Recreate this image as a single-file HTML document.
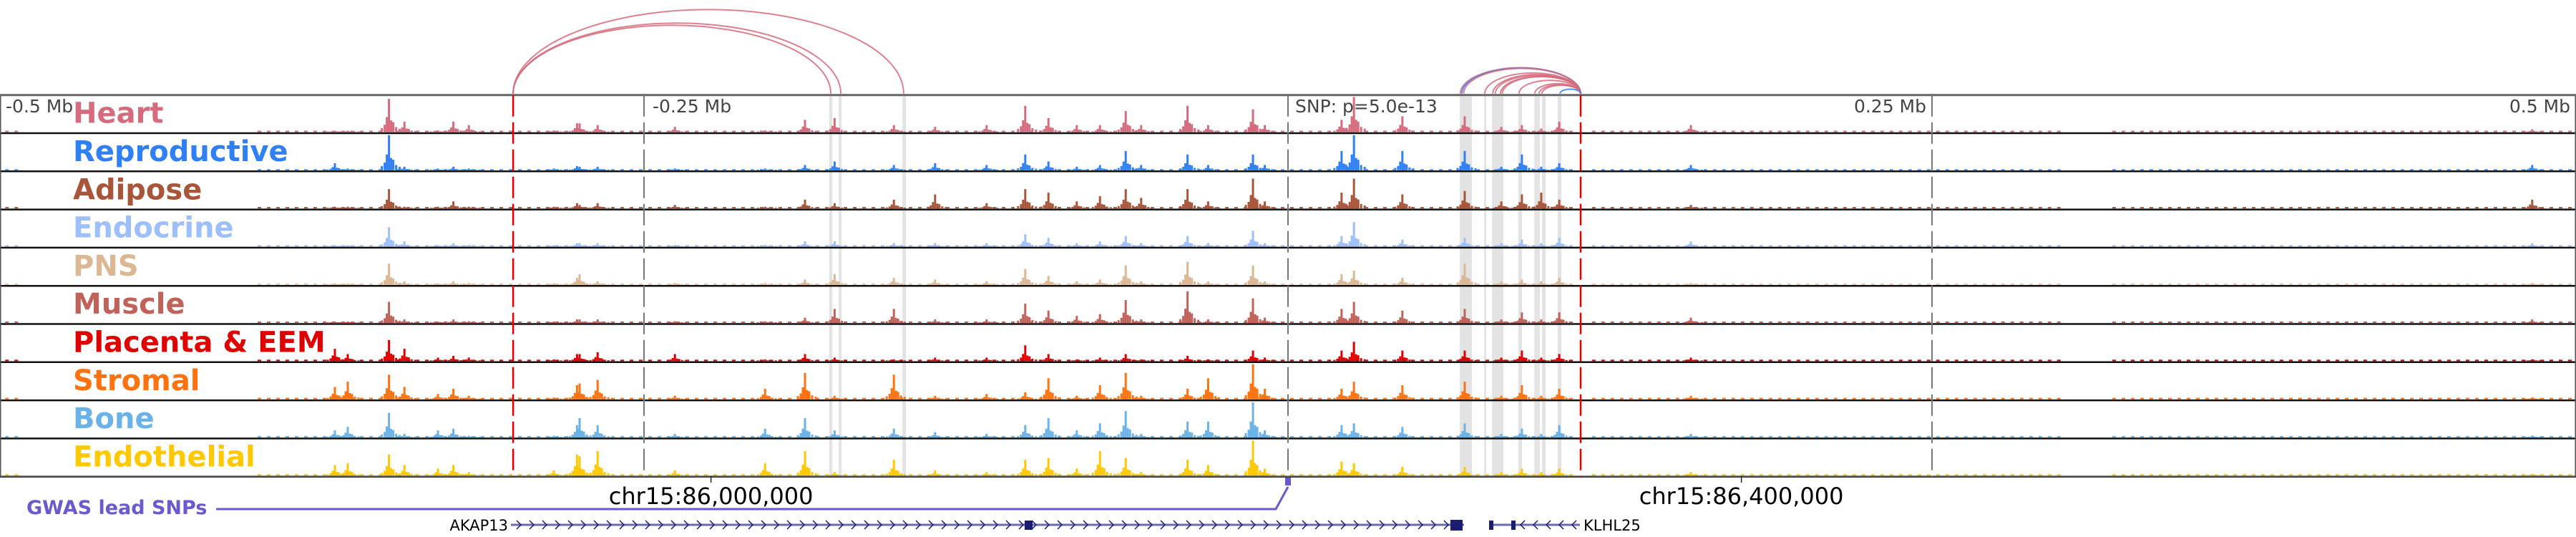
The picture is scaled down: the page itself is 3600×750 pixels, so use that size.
<!DOCTYPE html>
<html><head><meta charset="utf-8"><title>Genome tracks</title>
<style>
html,body{margin:0;padding:0;background:#fff;}
svg{display:block;}
text{font-family:"DejaVu Sans","Liberation Sans",sans-serif;}
</style></head>
<body>
<svg id="chart" width="3600" height="750" viewBox="0 0 3600 750" xmlns="http://www.w3.org/2000/svg">
<g id="stripes"></g>
<g id="arcs"></g>
<g id="tracks"></g>
<g id="vlines"></g>
<g id="labels"></g>
<g id="bottom"></g>
</svg>
<script>
// ---- data ----
const trackNames = ["Heart","Reproductive","Adipose","Endocrine","PNS","Muscle","Placenta & EEM","Stromal","Bone","Endothelial"];
const trackColors = ["#d56b7d","#2f7ff5","#a9553a","#9dbffc","#dcb794","#c0625a","#e00000","#ff7210","#6ab2e7","#ffc800"];
const peakKb = [-370,-365,-349,-343,-330,-324,-318,-285,-276,-275,-268,-238,-203,-187.5,-176,-153,-137,-117,-102,-93,-82,-73,-63,-57,-39,-31,-13.6,-9,20.8,25.6,44.4,68.6,82.8,90.8,98.3,105.3,156.4,483];
const heart   = [0.04,0.04,0.95,0.3,0.05,0.3,0.2,0.05,0.25,0.25,0.2,0.15,0.05,0.35,0.4,0.2,0.15,0.2,0.75,0.4,0.2,0.2,0.6,0.2,0.75,0.2,0.65,0.2,0.35,1.0,0.45,0.45,0.15,0.2,0.1,0.3,0.2,0.08];
const repro   = [0.2,0.05,1.0,0.1,0.05,0.1,0.05,0.05,0.12,0.1,0.1,0.05,0.05,0.15,0.25,0.15,0.2,0.15,0.45,0.25,0.1,0.15,0.55,0.15,0.45,0.15,0.45,0.15,0.55,1.0,0.55,0.55,0.1,0.45,0.1,0.2,0.15,0.15];
const adipose = [0.05,0.05,0.55,0.05,0.05,0.2,0.05,0.05,0.15,0.1,0.15,0.1,0.05,0.25,0.15,0.25,0.4,0.15,0.55,0.45,0.2,0.35,0.55,0.3,0.55,0.2,0.85,0.2,0.45,0.85,0.4,0.5,0.2,0.4,0.45,0.25,0.1,0.25];
const endocr  = [0.04,0.04,0.55,0.15,0.04,0.1,0.05,0.04,0.1,0.1,0.1,0.05,0.05,0.15,0.15,0.1,0.1,0.1,0.35,0.25,0.1,0.15,0.3,0.1,0.3,0.1,0.45,0.1,0.3,0.7,0.2,0.25,0.1,0.2,0.1,0.25,0.15,0.1];
const pns     = [0.04,0.04,0.6,0.1,0.04,0.1,0.05,0.04,0.2,0.3,0.1,0.05,0.05,0.15,0.3,0.2,0.15,0.1,0.45,0.25,0.1,0.15,0.55,0.1,0.65,0.1,0.55,0.1,0.3,0.4,0.2,0.6,0.1,0.15,0.1,0.2,0.05,0.05];
const muscle  = [0.04,0.04,0.6,0.1,0.04,0.1,0.05,0.04,0.1,0.1,0.1,0.05,0.05,0.15,0.4,0.4,0.1,0.1,0.55,0.35,0.2,0.25,0.65,0.1,0.9,0.1,0.7,0.15,0.4,0.6,0.35,0.4,0.1,0.3,0.1,0.3,0.15,0.1];
const placent = [0.35,0.2,0.6,0.35,0.1,0.15,0.1,0.05,0.2,0.2,0.25,0.2,0.05,0.2,0.1,0.05,0.1,0.1,0.45,0.2,0.05,0.1,0.2,0.05,0.15,0.05,0.3,0.1,0.3,0.55,0.3,0.3,0.1,0.3,0.1,0.2,0.1,0.05];
const stromal = [0.35,0.5,0.7,0.35,0.15,0.3,0.1,0.05,0.4,0.45,0.55,0.1,0.3,0.75,0.1,0.7,0.1,0.15,0.2,0.6,0.1,0.4,0.75,0.1,0.3,0.6,1.0,0.3,0.3,0.5,0.4,0.5,0.1,0.4,0.1,0.3,0.1,0.05];
const bone    = [0.2,0.3,0.7,0.1,0.2,0.25,0.05,0.05,0.35,0.55,0.35,0.1,0.25,0.55,0.2,0.25,0.15,0.1,0.35,0.55,0.2,0.4,0.75,0.1,0.45,0.45,1.0,0.2,0.35,0.4,0.3,0.4,0.1,0.25,0.1,0.35,0.1,0.05];
const endoth  = [0.3,0.35,0.6,0.3,0.2,0.3,0.1,0.15,0.6,0.55,0.7,0.15,0.35,0.7,0.1,0.45,0.15,0.1,0.45,0.5,0.2,0.7,0.5,0.1,0.45,0.3,1.0,0.2,0.4,0.35,0.25,0.25,0.1,0.2,0.1,0.2,0.1,0.05];
const trackValues = [heart,repro,adipose,endocr,pns,muscle,placent,stromal,bone,endoth];
const bgRanges = [[-498,-494],[-400,112],[118,300],[320,500]];
const bgLevels = [0.04,0.03,0.04,0.04,0.03,0.04,0.04,0.04,0.04,0.04];
const stripeRanges = [[-178.1,-176.9],[-174.4,-173.3],[-149.7,-148.3],[66.7,71.4],[76.1,76.9],[79.2,83.6],[89.4,90.8],[95.6,97.8],[98.6,100],[104.7,106.1]];
const arcStart = [-300.8,-300.8,-300.8,66.9,67.5,68.2,76.4,79.5,80.5,82.5,83.2,89.7,95.8,97.5,98.6,105.6];
const arcEnd   = [-177.5,-173.6,-149.2,113.6,113.6,113.6,113.6,113.6,113.6,113.6,113.6,113.6,113.6,113.6,113.6,113.6];
const arcTissue= [0,0,0,0,1,0,0,0,0,0,0,0,0,0,0,1];
const tickKb = [-500,-250,0,250,500];
const tickLabels = ["-0.5 Mb","-0.25 Mb","SNP: p=5.0e-13","0.25 Mb","0.5 Mb"];
const redLineKb = [-300.8,113.6];
const chrTickKb = [-224,176];
const chrTickLabels = ["chr15:86,000,000","chr15:86,400,000"];
const snpKb = [0];

// ---- scales ----
const NS="http://www.w3.org/2000/svg";
const xKb = kb => 1800 + kb*3.6;
const T0 = 132.7, TH = 53.3, NT = 10, MAXH = 49;
const trackTop = i => T0 + i*TH;
function mk(tag, attrs, parent){const e=document.createElementNS(NS,tag);for(const k in attrs)e.setAttribute(k,attrs[k]);parent.appendChild(e);return e;}

const gStripes=document.getElementById('stripes');
stripeRanges.forEach(r=>{
  const e=mk('rect',{x:xKb(r[0]),y:T0+2,width:Math.max(2,xKb(r[1])-xKb(r[0])),height:NT*TH-2,fill:'#e3e3e3'},gStripes);
  
  
});

const gTracks=document.getElementById('tracks');
for(let i=0;i<NT;i++){
  const g=mk('g',{},gTracks);
  
  
  const base = trackTop(i)+TH-1.5, col=trackColors[i], vals=trackValues[i];
  bgRanges.forEach(r=>{
    for(let x=xKb(r[0]); x<xKb(r[1]); x+=13){
      mk('rect',{x:x,y:base-bgLevels[i]*MAXH,width:5,height:bgLevels[i]*MAXH,fill:col},g);
    }
  });
  peakKb.forEach((kb,j)=>{
    const v=vals[j], cx=xKb(kb);
    const sh=[[0,1],[-3,0.45],[3,0.35],[-6,0.22],[6,0.3],[-10,0.12],[10,0.15],[15,0.1]];
    sh.forEach(s=>{
      const h=Math.max(1,v*s[1]*MAXH);
      const b=mk('rect',{x:cx+s[0]-1.5,y:base-h,width:3,height:h,fill:col},g);
      if(s[0]===0){}
    });
  });
  mk('line',{x1:0,x2:3600,y1:trackTop(i)+TH,y2:trackTop(i)+TH,stroke:'#111','stroke-width':2.5},g);
}
mk('rect',{x:0.75,y:T0,width:3598.5,height:NT*TH,fill:'none',stroke:'#555','stroke-width':1.5},gTracks);
mk('line',{x1:0,x2:3600,y1:T0,y2:T0,stroke:'#666','stroke-width':3},gTracks);

const gV=document.getElementById('vlines');
tickKb.forEach((kb,j)=>{
  if(j===0||j===tickKb.length-1)return;
  const l=mk('line',{x1:xKb(kb),x2:xKb(kb),y1:T0,y2:T0+NT*TH,stroke:'#777','stroke-width':2,'stroke-dasharray':'30 8'},gV);
  
  
});
redLineKb.forEach(kb=>{
  const l=mk('line',{x1:xKb(kb),x2:xKb(kb),y1:T0,y2:T0+NT*TH,stroke:'#e00000','stroke-width':2.5,'stroke-dasharray':'30 8'},gV);
  
  
});

const gA=document.getElementById('arcs');
const arcCols=['#d56b7d','#2f7ff5'];
arcStart.forEach((s,j)=>{
  const x1=xKb(s), x2=xKb(arcEnd[j]), rx=(x2-x1)/2, ry=(x2-x1)*0.215, yb=T0-2;
  const p=mk('path',{d:`M${x1},${yb} A${rx},${ry} 0 0 1 ${x2},${yb}`,fill:'none',stroke:arcCols[arcTissue[j]],'stroke-width':2,opacity:0.85},gA);
  
  
});

const gL=document.getElementById('labels');
const tickAnchor=['start','start','start','end','end'];
const tickOff=[8,12,10,-8,-8];
tickKb.forEach((kb,j)=>{
  const t=mk('text',{x:xKb(kb)+tickOff[j],y:157,'font-size':25,fill:'#444','text-anchor':tickAnchor[j]},gL);
  t.textContent=tickLabels[j];
  
  
});
trackNames.forEach((n,i)=>{
  const t=mk('text',{x:102,y:trackTop(i)+39,'font-size':40,'font-weight':'bold',fill:trackColors[i]},gL);
  t.textContent=n;
  
  
});

const gB=document.getElementById('bottom');
chrTickKb.forEach((kb,j)=>{
  const l=mk('line',{x1:xKb(kb),x2:xKb(kb),y1:665,y2:674,stroke:'#222','stroke-width':1.5},gB);
  
  
  const t=mk('text',{x:xKb(kb),y:704,'font-size':32,fill:'#000','text-anchor':'middle'},gB);
  t.textContent=chrTickLabels[j];
  
  
});
snpKb.forEach(kb=>{
  const r=mk('rect',{x:xKb(kb)-4,y:667,width:8,height:11,fill:'#6a5acd'},gB);
  
  
  const p=mk('polyline',{points:`${xKb(kb)},680 ${xKb(kb)-17},711 302,711`,fill:'none',stroke:'#6a5acd','stroke-width':3},gB);
  
  
});
const gw=mk('text',{x:37,y:718,'font-size':27,'font-weight':'bold',fill:'#6a5acd'},gB);
gw.textContent='GWAS lead SNPs';



// genes
const gene=mk('g',{},gB);


mk('line',{x1:714,x2:2046,y1:733,y2:733,stroke:'#6b6baf','stroke-width':3},gene);
for(let x=722;x<2020;x+=18){mk('polyline',{points:`${x},727 ${x+6},733 ${x},739`,fill:'none',stroke:'#1c1c70','stroke-width':1.5},gene);}
mk('rect',{x:1432,y:727,width:11,height:13,fill:'#1c1c70'},gene);
mk('rect',{x:2027,y:726,width:17,height:15,fill:'#1c1c70'},gene);
mk('line',{x1:2081,x2:2208,y1:733,y2:733,stroke:'#6b6baf','stroke-width':3},gene);
for(let x=2125;x<2206;x+=18){mk('polyline',{points:`${x+6},727 ${x},733 ${x+6},739`,fill:'none',stroke:'#1c1c70','stroke-width':1.5},gene);}
mk('rect',{x:2081,y:727,width:6,height:13,fill:'#1c1c70'},gene);
mk('rect',{x:2112,y:727,width:6,height:13,fill:'#1c1c70'},gene);
const g1=mk('text',{x:710,y:741,'font-size':21,fill:'#000','text-anchor':'end'},gene);
g1.textContent='AKAP13';


const g2=mk('text',{x:2213,y:741,'font-size':21,fill:'#000'},gene);
g2.textContent='KLHL25';


</script>
</body></html>
